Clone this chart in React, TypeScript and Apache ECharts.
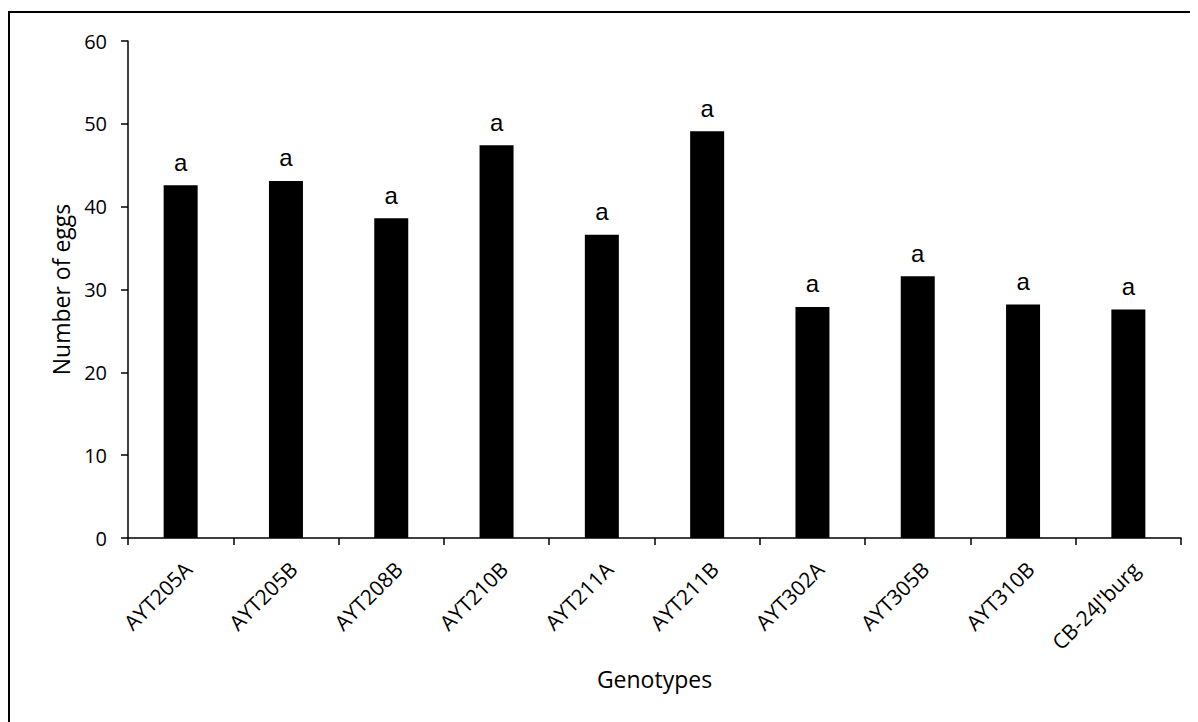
import React, { useEffect, useRef } from "react";
import * as echarts from "echarts";

const categories = ["AYT205A", "AYT205B", "AYT208B", "AYT210B", "AYT211A", "AYT211B", "AYT302A", "AYT305B", "AYT310B", "CB-24J'burg"];
const values = [42.6, 43.1, 38.6, 47.4, 36.6, 49.1, 27.9, 31.6, 28.2, 27.6];
const letters = ["a", "a", "a", "a", "a", "a", "a", "a", "a", "a"];
const yTicks = [0, 10, 20, 30, 40, 50, 60];

export default function App() {
  const ref = useRef<HTMLDivElement>(null);
  useEffect(() => {
    if (!ref.current) return;
    const chart = echarts.init(ref.current, null, { renderer: "svg" });
    chart.setOption({
      animation: false,
      backgroundColor: "#ffffff",
      graphic: [
        {
          type: "rect",
          shape: { x: 1, y: 4, width: 1400, height: 1000 },
          style: { fill: "none", stroke: "#000", lineWidth: 2 },
          silent: true,
        },
      ],
      grid: { left: 120, right: 17, top: 33, bottom: 184, containLabel: false },
      xAxis: {
        type: "category",
        data: categories,
        name: "Genotypes",
        nameLocation: "middle",
        nameGap: 129,
        nameTextStyle: { fontFamily: "Open Sans", fontSize: 23, color: "#000" },
        axisLine: { lineStyle: { color: "#000", width: 1.5 } },
        axisTick: { show: true, length: 7, lineStyle: { color: "#000", width: 1.5 } },
        axisLabel: { rotate: 45, interval: 0, margin: 20, verticalAlign: "top", fontFamily: "Open Sans", fontSize: 21, color: "#000" },
      },
      yAxis: {
        type: "value",
        min: yTicks[0],
        max: yTicks[yTicks.length - 1],
        interval: 10,
        name: "Number of eggs",
        nameLocation: "middle",
        nameGap: 56,
        nameTextStyle: { fontFamily: "Open Sans", fontSize: 23, color: "#000" },
        axisLine: { show: true, lineStyle: { color: "#000", width: 1.5 } },
        axisTick: { show: true, length: 7, lineStyle: { color: "#000", width: 1.5 } },
        axisLabel: { margin: 21, fontFamily: "Open Sans", fontSize: 20, color: "#000" },
        splitLine: { show: false },
      },
      series: [
        {
          type: "bar",
          data: values,
          barWidth: 34,
          itemStyle: { color: "#000" },
          label: {
            show: true,
            position: "top",
            distance: 11,
            formatter: (p: any) => letters[p.dataIndex],
            fontFamily: "Liberation Sans",
            fontSize: 24,
            color: "#000",
          },
        },
      ],
    });
    return () => chart.dispose();
  }, []);
  return <div ref={ref} style={{ width: 1190, height: 714 }} />;
}
